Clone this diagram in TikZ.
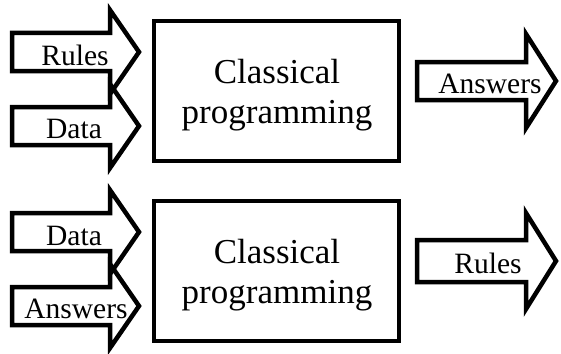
\documentclass[tikz,border=0pt]{standalone}
\usepackage{fontspec}
\setmainfont{Liberation Serif}
\newcommand\blockarrow[7]{% name, x0, yc, basex, tipx, bodyhalf, headhalf
  \coordinate (#1) at (#2,#3);
  \draw[arrowline] (#2,#3-#6) -- (#4,#3-#6) -- (#4,#3-#7) -- (#5,#3) -- (#4,#3+#7) -- (#4,#3+#6) -- (#2,#3+#6) -- cycle;}
\begin{document}
\begin{tikzpicture}[x=1pt,y=-1pt,
  arrowline/.style={line width=4.5pt,line join=miter,black},
  procbox/.style={draw=black,line width=4.5pt,minimum width=245pt,minimum height=140pt,inner sep=0pt},
  boxtext/.style={align=center,inner sep=0pt,font=\fontsize{35}{40}\selectfont},
  lbl/.style={anchor=base,inner sep=0pt,font=\fontsize{29.5}{32}\selectfont}]
\useasboundingbox (0,0) rectangle (561,353);
% top row
\blockarrow{a1}{12}{52}{110}{139}{19}{42}
\blockarrow{a2}{12}{126}{110}{139}{19}{42}
\node[procbox] (b1) at (276.5,91) {};
\node[boxtext] (c1) at (277,95) {Classical\\programming};
\blockarrow{a3}{417}{81}{526}{556}{19}{47}
\node[lbl] (t1) at (75,65) {Rules};
\node[lbl] (t2) at (74,138) {Data};
\node[lbl] (t3) at (490,93) {Answers};
% bottom row
\blockarrow{a4}{12}{232}{110}{139}{19}{42}
\blockarrow{a5}{12}{306}{110}{139}{19}{42}
\node[procbox] (b2) at (276.5,271) {};
\node[boxtext] (c2) at (277,275) {Classical\\programming};
\blockarrow{a6}{417}{261}{526}{556}{21}{48}
\node[lbl] (t4) at (74,245) {Data};
\node[lbl] (t5) at (76,318) {Answers};
\node[lbl] (t6) at (488,273) {Rules};
\end{tikzpicture}
\end{document}
